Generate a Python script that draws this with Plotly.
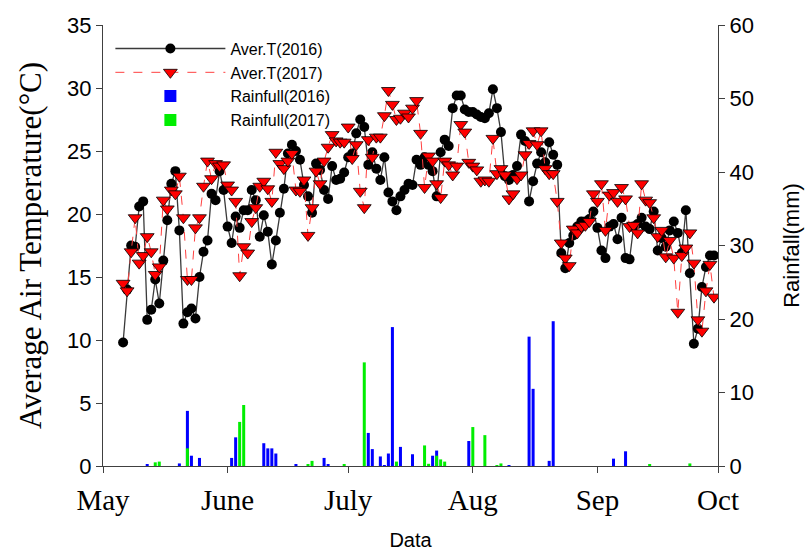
import plotly.graph_objects as go

# ---------------- data ----------------
month_ticks = [0, 31, 61, 92, 123, 153]
month_labels = ["May", "June", "July", "Aug", "Sep", "Oct"]

start_day = 5  # days after May 1
temp2016 = [9.8, 14.0, 17.5, 17.4, 20.6, 21.0, 11.6, 12.4, 14.8, 12.9,
            16.3, 19.5, 22.4, 23.4, 18.7, 11.3, 12.2, 12.5, 11.7, 15.0,
            17.0, 17.9, 21.6, 21.1, 23.4, 21.9, 19.0, 17.7, 19.8, 18.9,
            20.3, 20.3, 21.9, 21.1, 18.2, 19.9, 18.6, 16.0, 17.9, 20.1,
            22.0, 24.8, 25.5, 25.0, 24.3, 22.3, 21.4, 20.1, 24.0, 23.5,
            21.9, 21.2, 23.8, 22.7, 22.8, 23.3, 24.5, 24.8, 26.4, 27.5,
            26.9, 23.9, 24.9, 23.6, 22.7, 24.5, 21.7, 21.0, 20.3, 21.4,
            21.9, 22.4, 22.3, 24.3, 23.9, 24.5, 23.9, 23.4, 21.4, 24.9,
            25.9, 25.4, 28.4, 29.4, 29.4, 28.3, 28.1, 28.1, 27.9, 27.7,
            27.6, 28.0, 29.9, 28.4, 26.5, 23.0, 22.7, 23.1, 23.8, 26.3,
            25.8, 21.0, 22.6, 24.0, 24.9, 24.1, 25.7, 24.7, 23.9, 16.9,
            15.7, 17.7, 18.3, 19.0, 19.4, 19.4, 19.6, 20.2, 18.9, 17.1,
            16.5, 19.0, 19.2, 18.0, 19.7, 16.5, 16.4, 19.0, 19.2, 19.7,
            19.0, 18.8, 20.2, 17.1, 18.1, 17.4, 18.7, 19.4, 18.5, 16.9,
            20.3, 15.3, 9.7, 10.9, 14.2, 15.8, 16.7, 16.7]
temp2017 = [14.5, 13.9, 17.0, 19.7, 16.1, 16.7, 18.2, 17.0, 15.2, 15.8,
            21.1, 20.4, 21.9, 21.6, 23.0, 19.7, 14.8, 14.8, 18.9, 19.7,
            22.2, 24.2, 22.8, 24.0, 23.8, 23.9, 22.3, 21.9, 21.0, 15.1,
            17.4, 16.9, 19.4, 20.5, 22.2, 22.6, 22.0, 21.0, 24.9, 24.0,
            23.6, 24.2, 24.8, 21.9, 21.8, 22.7, 18.3, 20.5, 23.4, 22.4,
            24.2, 25.3, 26.3, 25.8, 25.7, 25.7, 26.9, 24.4, 25.5, 21.8,
            20.5, 25.9, 24.5, 26.1, 26.1, 27.8, 29.8, 28.7, 27.5, 27.6,
            28.0, 27.7, 28.4, 29.0, 26.4, 22.1, 24.6, 24.2, 22.4, 21.3,
            24.2, 23.9, 23.1, 23.8, 27.1, 26.5, 24.1, 23.8, 23.5, 22.6,
            22.7, 22.6, 26.0, 23.2, 23.6, 23.1, 21.2, 21.6, 22.8, 23.1,
            24.7, 25.6, 26.6, 25.5, 26.6, 23.6, 23.2, 23.2, 21.0, 17.7,
            16.5, 15.9, 18.8, 18.5, 19.0, 19.1, 19.4, 21.6, 21.0, 22.4,
            18.7, 21.5, 21.7, 21.0, 22.1, 21.2, 19.0, 19.1, 18.5, 22.4,
            21.1, 20.9, 19.7, 18.2, 18.7, 16.6, 17.9, 16.5, 12.2, 16.7,
            17.3, 18.5, 16.1, 11.6, 10.7, 13.9, 16.0, 13.4]
temp_days = list(range(start_day, start_day + len(temp2016)))

rain2016_days = [11, 19, 21, 22, 24, 32, 33, 40, 41, 42, 43, 48, 55, 56, 66, 67,
                 69, 70, 71, 72, 74, 77, 82, 83, 91, 101, 106, 107, 111, 112, 127, 130]
rain2016 = [0.2, 0.35, 7.5, 1.4, 1.1, 1.1, 3.9, 3.1, 2.4, 2.4, 1.7, 0.15, 1.1, 0.25,
            4.5, 2.3, 1.3, 0.1, 1.7, 18.9, 2.6, 1.6, 1.4, 2.1, 3.4, 0.1, 17.6, 10.5,
            0.7, 19.7, 1.0, 2.0]
rain2017_days = [13, 14, 21, 34, 35, 51, 52, 60, 65, 73, 80, 81, 83, 84, 85, 92,
                 95, 98, 99, 136, 146]
rain2017 = [0.5, 0.6, 2.4, 6.0, 8.3, 0.25, 0.7, 0.25, 14.1, 0.6, 2.8, 0.3, 1.4, 0.9,
            0.6, 5.3, 4.2, 0.1, 0.35, 0.25, 0.35]

# ---------------- figure ----------------
fig = go.Figure()
fig.add_trace(go.Scatter(
    x=temp_days, y=temp2016, name="Aver.T(2016)", legendgroup="a",
    mode="lines+markers",
    line=dict(color="#3a3a3a", width=1.3),
    marker=dict(symbol="circle", size=10, color="black"),
))
fig.add_trace(go.Scatter(
    x=temp_days, y=temp2017, name="Aver.T(2017)", legendgroup="b",
    mode="lines+markers",
    line=dict(color="#ff4040", width=1, dash="dash"),
    marker=dict(symbol="triangle-down", size=12, color="#ff0000",
                line=dict(color="black", width=0.8)),
))
fig.add_trace(go.Bar(
    x=rain2016_days, y=rain2016, name="Rainfull(2016)", legendgroup="c",
    yaxis="y2", marker=dict(color="#0000ff", line=dict(width=0)), width=0.75,
))
fig.add_trace(go.Bar(
    x=rain2017_days, y=rain2017, name="Rainfull(2017)", legendgroup="d",
    yaxis="y2", marker=dict(color="#00ee00", line=dict(width=0)), width=0.75,
))

axis_common = dict(showgrid=False, zeroline=False, showline=True,
                   linecolor="#404040", linewidth=1.2, ticks="outside",
                   ticklen=6, tickcolor="#404040", tickwidth=1.2)

fig.update_layout(
    width=806, height=554,
    margin=dict(l=103, r=88, t=25, b=88, autoexpand=False),
    paper_bgcolor="white", plot_bgcolor="white",
    barmode="overlay",
    font=dict(family="Liberation Sans, Arial", color="black"),
    xaxis=dict(range=[0, 153], tickvals=month_ticks, ticktext=month_labels,
               tickfont=dict(family="Liberation Serif, Times New Roman", size=29),
               ticklabelstandoff=2,
               title=dict(text="Data", font=dict(size=20), standoff=18),
               **axis_common),
    yaxis=dict(range=[0, 35], dtick=5, tickfont=dict(size=22),
               title=dict(text="Average Air Temperature(°C)",
                          font=dict(family="Liberation Serif, Times New Roman", size=31),
                          standoff=16),
               **axis_common),
    yaxis2=dict(range=[0, 60], dtick=10, overlaying="y", side="right",
                tickfont=dict(size=22),
                title=dict(text="Rainfall(mm)", font=dict(size=22), standoff=30),
                **axis_common),
    legend=dict(x=0.012, y=0.985, xanchor="left", yanchor="top",
                bgcolor="rgba(0,0,0,0)", font=dict(size=16),
                traceorder="grouped", tracegroupgap=0, itemwidth=110),
    showlegend=True,
)

fig.write_html("out.html")
